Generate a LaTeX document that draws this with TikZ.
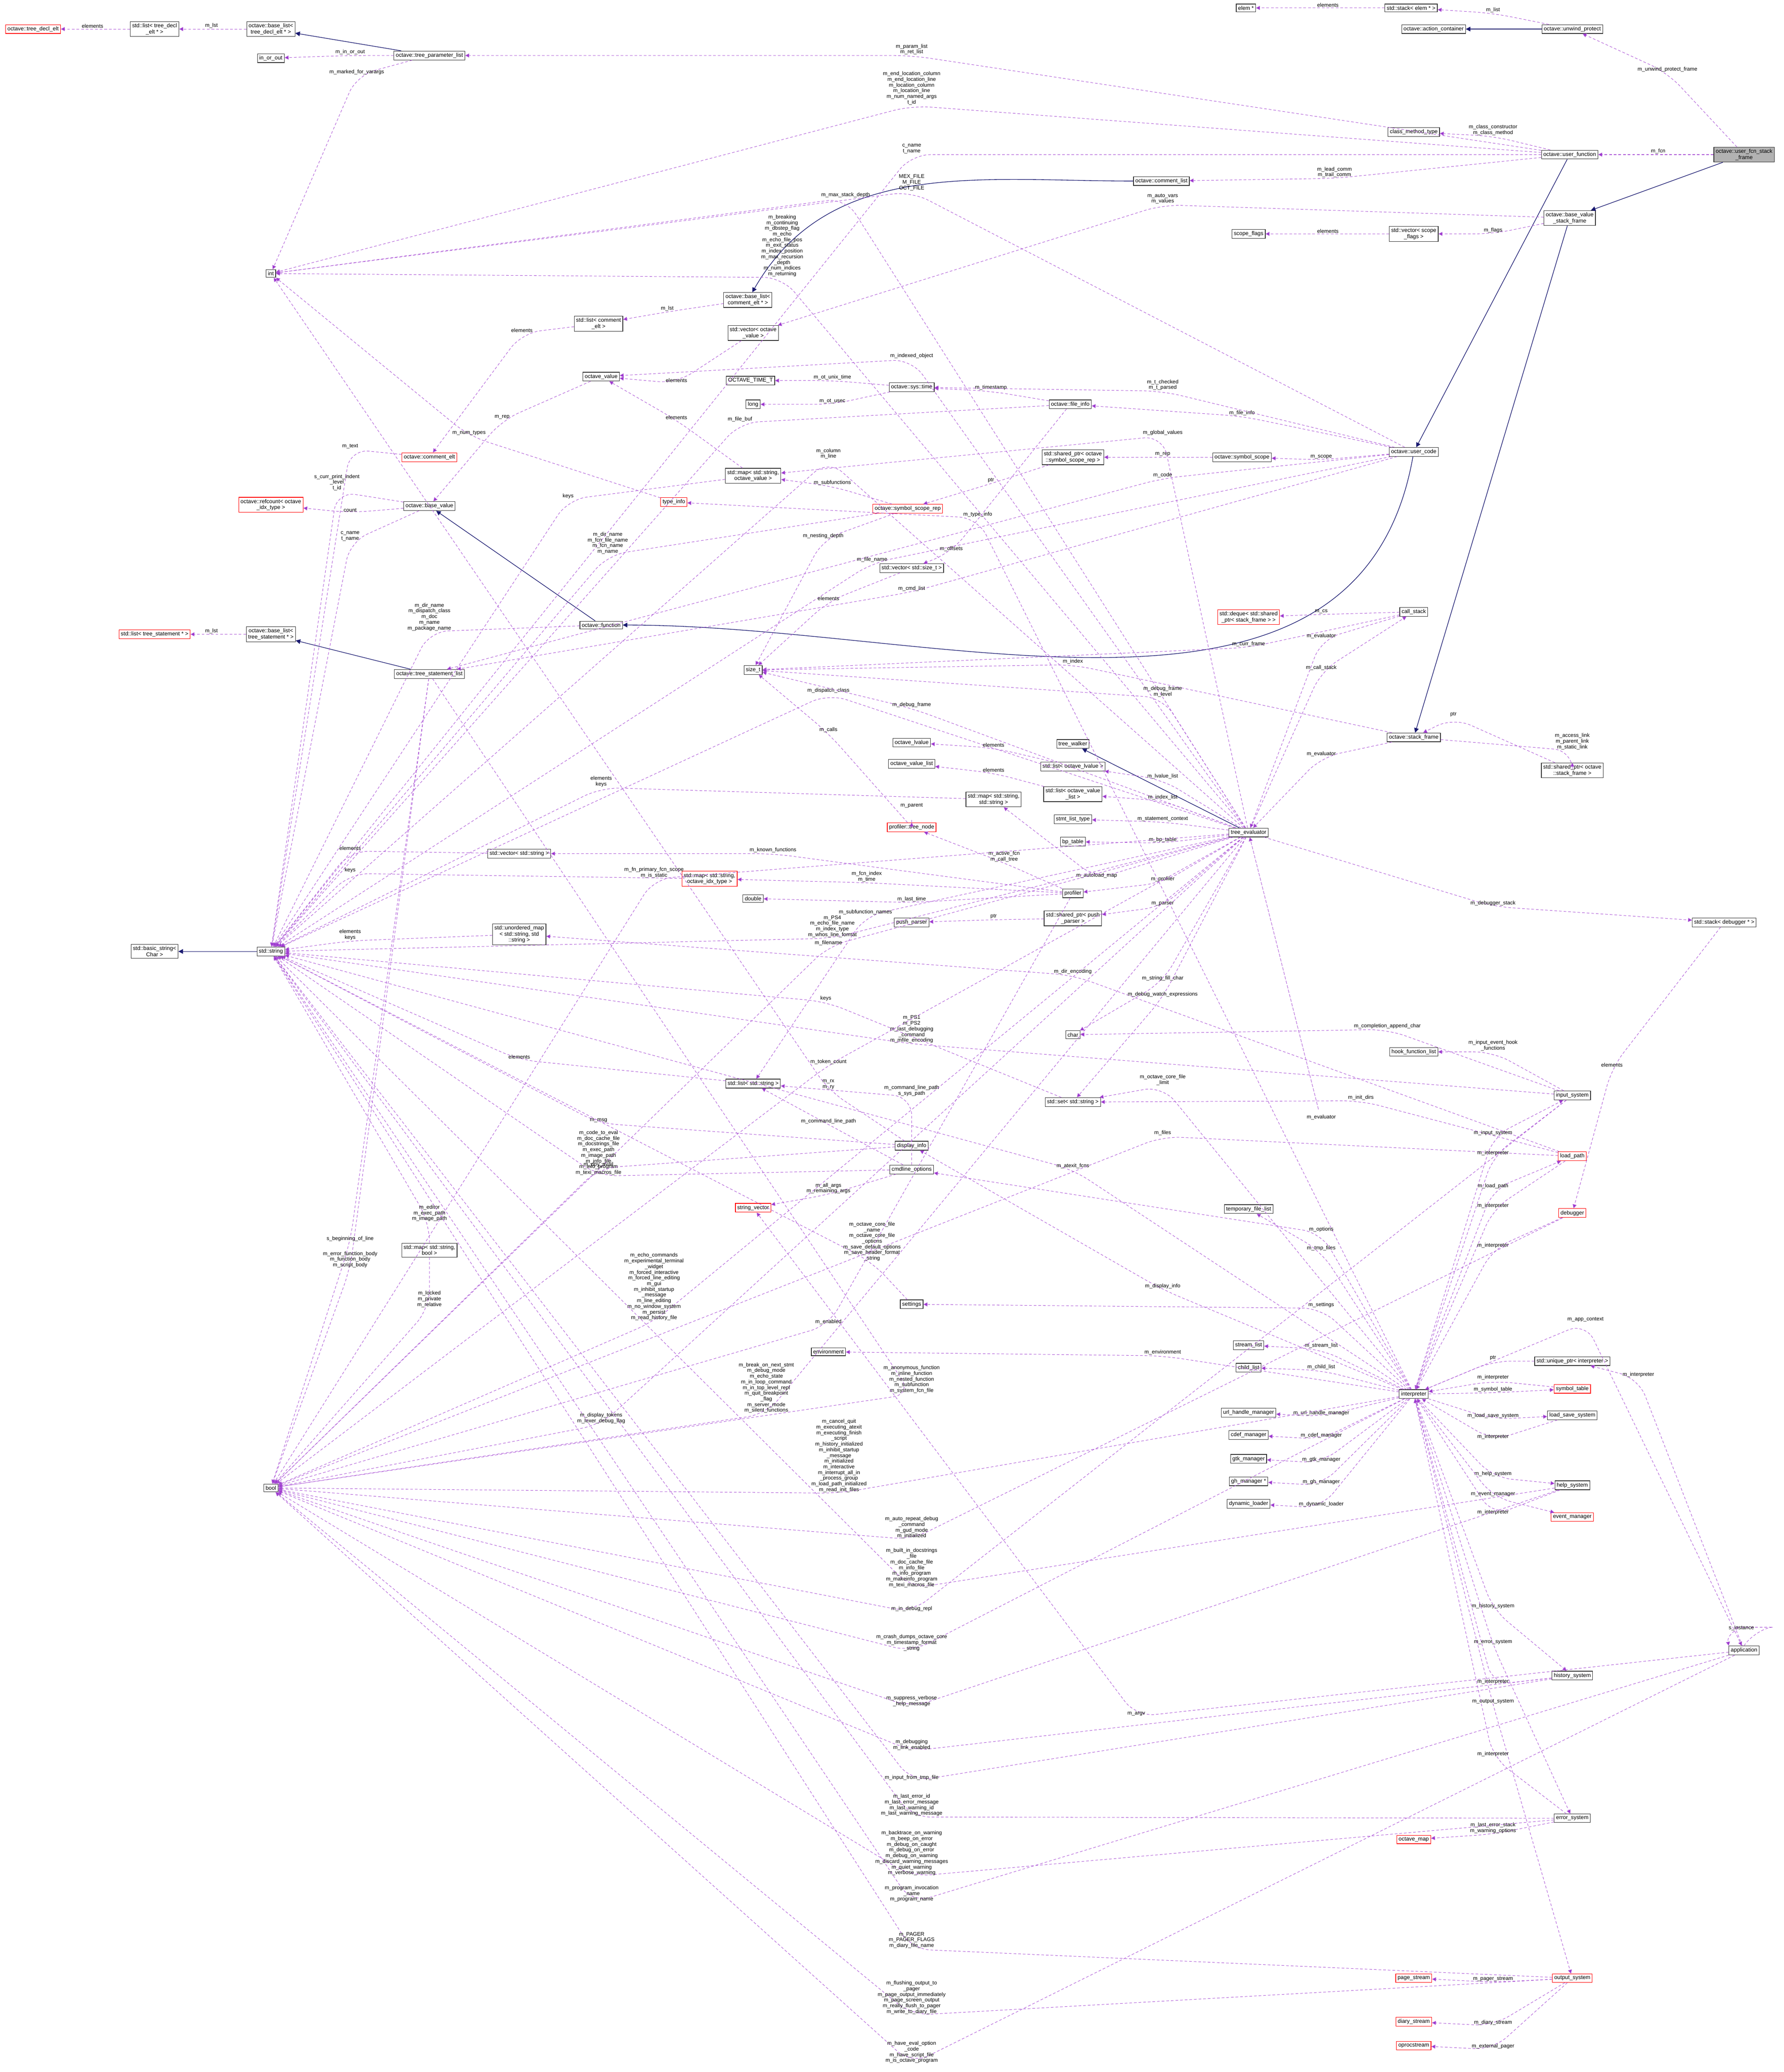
\documentclass[tikz,border=0pt]{standalone}
\usepackage{fontspec}
\setmainfont{Liberation Sans}
\usetikzlibrary{arrows.meta}
\definecolor{edgepurple}{RGB}{154,50,205}
\definecolor{inhblue}{RGB}{25,25,112}
\tikzset{>=latex}
\tikzset{
  cls/.style={draw=black!80, line width=0.4pt, fill=white, align=center, inner sep=1.4pt, font=\fontsize{4.2}{4.6}\selectfont},
  red cls/.style={cls, draw=red},
  root cls/.style={cls, fill=gray!60},
  dep/.style={draw=edgepurple!80, dashed, dash pattern=on 2pt off 1.5pt, line width=0.35pt, rounded corners=14pt, -{Triangle[length=3pt,width=3pt,fill=edgepurple]}},
  inh/.style={draw=inhblue, line width=0.45pt, -{Triangle[length=3.5pt,width=3.5pt,fill=inhblue]}},
  lbl/.style={align=center, inner sep=0.5pt, font=\fontsize{4}{4.3}\selectfont}
}
% dependency edge: source, via point, target, label
\newcommand{\dep}[4]{\draw[dep] (#1) -- (#2) -- (#3); \node[lbl, above] at (#2) {#4};}
\begin{document}
\begin{tikzpicture}[x=1pt, y=-1pt]
\useasboundingbox (0,0) rectangle (1350,1568);

% Classes
\node[red cls] (decl) at (25,22) {octave::tree\_decl\_elt};
\node[cls] (ldecl) at (117,22) {std::list< tree\_decl\\\_elt * >};
\node[cls] (bldecl) at (205,22) {octave::base\_list<\\ tree\_decl\_elt * >};
\node[cls] (inout) at (205,44) {in\_or\_out};
\node[cls] (tpl) at (325,42) {octave::tree\_parameter\_list};
\node[cls] (elem) at (943,6) {elem *};
\node[cls] (selem) at (1068,6) {std::stack< elem * >};
\node[cls] (actc) at (1085,22) {octave::action\_container};
\node[cls] (unwind) at (1190,22) {octave::unwind\_protect};
\node[root cls] (ufsf) at (1320,117) {octave::user\_fcn\_stack\\\_frame};
\node[cls] (cmt) at (1070,100) {class\_method\_type};
\node[cls] (ufcn) at (1188,117) {octave::user\_function};
\node[cls] (clist) at (879,137) {octave::comment\_list};
\node[cls] (bvsf) at (1188,165) {octave::base\_value\\\_stack\_frame};
\node[cls] (sflags) at (945,177) {scope\_flags};
\node[cls] (vsflags) at (1070,177) {std::vector< scope\\\_flags >};
\node[cls] (int) at (205,207) {int};
\node[cls] (blcmt) at (566,227) {octave::base\_list<\\ comment\_elt * >};
\node[cls] (lcmt) at (453,245) {std::list< comment\\\_elt >};
\node[cls] (vov) at (570,252) {std::vector< octave\\\_value >};
\node[cls] (ov) at (455,285) {octave\_value};
\node[cls] (ott) at (568,288) {OCTAVE\_TIME\_T};
\node[cls] (stime) at (690,293) {octave::sys::time};
\node[cls] (long) at (570,306) {long};
\node[cls] (finfo) at (810,306) {octave::file\_info};
\node[red cls] (celt) at (325,346) {octave::comment\_elt};
\node[red cls] (refc) at (205,382) {octave::refcount< octave\\\_idx\_type >};
\node[cls] (bval) at (325,383) {octave::base\_value};
\node[cls] (msov) at (570,360) {std::map< std::string,\\ octave\_value >};
\node[red cls] (tinfo) at (510,380) {type\_info};
\node[red cls] (ssr) at (687,385) {octave::symbol\_scope\_rep};
\node[cls] (spssr) at (812,346) {std::shared\_ptr< octave\\::symbol\_scope\_rep >};
\node[cls] (sscope) at (940,346) {octave::symbol\_scope};
\node[cls] (ucode) at (1070,342) {octave::user\_code};
\node[cls] (vsz) at (690,430) {std::vector< std::size\_t >};
\node[cls] (fcn) at (455,473) {octave::function};
\node[red cls] (deque) at (945,467) {std::deque< std::shared\\\_ptr< stack\_frame > >};
\node[cls] (cstack) at (1070,463) {call\_stack};
\node[cls] (blts) at (205,480) {octave::base\_list<\\ tree\_statement * >};
\node[red cls] (lts) at (117,480) {std::list< tree\_statement * >};
\node[cls] (tsl) at (325,510) {octave::tree\_statement\_list};
\node[cls] (sizet) at (570,507) {size\_t};
\node[cls] (sframe) at (1070,558) {octave::stack\_frame};
\node[cls] (twalk) at (812,563) {tree\_walker};
\node[cls] (olv) at (690,562) {octave\_lvalue};
\node[cls] (ovl) at (690,578) {octave\_value\_list};
\node[cls] (lolv) at (812,580) {std::list< octave\_lvalue >};
\node[cls] (spsf) at (1190,583) {std::shared\_ptr< octave\\::stack\_frame >};
\node[cls] (mss) at (752,605) {std::map< std::string,\\ std::string >};
\node[cls] (lovl) at (812,601) {std::list< octave\_value\\\_list >};
\node[red cls] (ptn) at (690,626) {profiler::tree\_node};
\node[cls] (slt) at (812,620) {stmt\_list\_type};
\node[cls] (bpt) at (812,637) {bp\_table};
\node[cls] (tev) at (945,630) {tree\_evaluator};
\node[cls] (vstr) at (393,646) {std::vector< std::string >};
\node[red cls] (msidx) at (537,665) {std::map< std::string,\\ octave\_idx\_type >};
\node[cls] (dbl) at (570,680) {double};
\node[cls] (prof) at (812,676) {profiler};
\node[cls] (umap) at (393,707) {std::unordered\_map\\< std::string, std\\::string >};
\node[cls] (pp) at (690,698) {push\_parser};
\node[cls] (sppp) at (812,695) {std::shared\_ptr< push\\\_parser >};
\node[cls] (sdbg) at (1305,698) {std::stack< debugger * >};
\node[cls] (bstr) at (117,720) {std::basic\_string<\\ Char >};
\node[cls] (str) at (205,720) {std::string};
\node[cls] (char) at (812,783) {char};
\node[cls] (hfl) at (1070,796) {hook\_function\_list};
\node[cls] (lstr) at (570,820) {std::list< std::string >};
\node[cls] (sstr) at (812,834) {std::set< std::string >};
\node[cls] (insys) at (1190,829) {input\_system};
\node[cls] (dinfo) at (690,867) {display\_info};
\node[red cls] (lpath) at (1190,875) {load\_path};
\node[cls] (cmdl) at (690,885) {cmdline\_options};
\node[red cls] (svec) at (570,914) {string\_vector};
\node[cls] (tfl) at (945,915) {temporary\_file\_list};
\node[red cls] (dbg) at (1190,918) {debugger};
\node[cls] (msb) at (325,946) {std::map< std::string,\\ bool >};
\node[cls] (sett) at (690,987) {settings};
\node[cls] (env) at (627,1023) {environment};
\node[cls] (strl) at (945,1018) {stream\_list};
\node[cls] (chl) at (945,1035) {child\_list};
\node[cls] (upi) at (1190,1030) {std::unique\_ptr< interpreter >};
\node[cls] (interp) at (1070,1055) {interpreter};
\node[red cls] (symt) at (1190,1051) {symbol\_table};
\node[cls] (urlh) at (945,1069) {url\_handle\_manager};
\node[cls] (lss) at (1190,1071) {load\_save\_system};
\node[cls] (cdef) at (945,1086) {cdef\_manager};
\node[cls] (gtk) at (945,1104) {gtk\_manager};
\node[cls] (ghm) at (945,1121) {gh\_manager *};
\node[cls] (help) at (1190,1124) {help\_system};
\node[cls] (bool) at (205,1126) {bool};
\node[cls] (dynl) at (945,1138) {dynamic\_loader};
\node[red cls] (evm) at (1190,1148) {event\_manager};
\node[cls] (app) at (1320,1249) {application};
\node[cls] (hist) at (1190,1268) {history\_system};
\node[cls] (errs) at (1190,1376) {error\_system};
\node[red cls] (omap) at (1070,1392) {octave\_map};
\node[red cls] (pstr) at (1070,1497) {page\_stream};
\node[red cls] (outs) at (1190,1497) {output\_system};
\node[red cls] (dstr) at (1070,1530) {diary\_stream};
\node[red cls] (opst) at (1070,1548) {oprocstream};

% Inheritance
\draw[inh] (tpl) -- (bldecl);
\draw[inh] (unwind) -- (actc);
\draw[inh] (ufsf) -- (bvsf);
\draw[inh] (ufcn) -- (ucode);
\draw[inh] (ucode) to[out=-100,in=0] (fcn);
\draw[inh] (clist) to[out=180,in=60] (blcmt);
\draw[inh] (fcn) -- (bval);
\draw[inh] (tsl) -- (blts);
\draw[inh] (bvsf) -- (sframe);
\draw[inh] (tev) -- (twalk);
\draw[inh] (str) -- (bstr);

% Members, top
\dep{ldecl}{70,22}{decl}{elements}
\dep{bldecl}{160,22}{ldecl}{m\_lst}
\dep{tpl}{265,42}{inout}{m\_in\_or\_out}
\dep{tpl}{270,57}{int}{m\_marked\_for\_varargs}
\dep{selem}{1005,6}{elem}{elements}
\dep{unwind}{1130,10}{selem}{m\_list}
\dep{ufsf}{1262,55}{unwind}{m\_unwind\_protect\_frame}
\dep{ufsf}{1255,117}{ufcn}{m\_fcn}
\dep{ufcn}{690,42}{tpl}{m\_param\_list\\m\_ret\_list}
\dep{ufcn}{690,80}{int}{m\_end\_location\_column\\m\_end\_location\_line\\m\_location\_column\\m\_location\_line\\m\_num\_named\_args\\t\_id}
\dep{ufcn}{1130,103}{cmt}{m\_class\_constructor\\m\_class\_method}
\dep{ufcn}{690,117}{str}{c\_name\\t\_name}
\dep{ufcn}{1010,135}{clist}{m\_lead\_comm\\m\_trail\_comm}
\dep{ucode}{690,145}{int}{MEX\_FILE\\M\_FILE\\OCT\_FILE}
\dep{tev}{640,150}{int}{m\_max\_stack\_depth}
\dep{bvsf}{880,155}{vov}{m\_auto\_vars\\m\_values}
\dep{bvsf}{1130,177}{vsflags}{m\_flags}
\dep{vsflags}{1005,177}{sflags}{elements}
\dep{blcmt}{505,236}{lcmt}{m\_lst}
\dep{lcmt}{395,252}{celt}{elements}
\dep{tev}{592,210}{int}{m\_breaking\\m\_continuing\\m\_dbstep\_flag\\m\_echo\\m\_echo\_file\_pos\\m\_exit\_status\\m\_index\_position\\m\_max\_recursion\\\_depth\\m\_num\_indices\\m\_returning}
\dep{vov}{512,290}{ov}{elements}
\dep{stime}{630,288}{ott}{m\_ot\_unix\_time}
\dep{stime}{630,306}{long}{m\_ot\_usec}
\dep{finfo}{750,296}{stime}{m\_timestamp}
\dep{tev}{690,272}{ov}{m\_indexed\_object}
\dep{ucode}{940,315}{finfo}{m\_file\_info}
\dep{ucode}{880,296}{stime}{m\_t\_checked\\m\_t\_parsed}

% Members, middle
\dep{bval}{265,388}{refc}{count}
\dep{bval}{255,372}{str}{s\_curr\_print\_indent\\\_level\\t\_id}
\dep{bval}{265,410}{str}{c\_name\\t\_name}
\dep{celt}{265,340}{str}{m\_text}
\dep{ov}{380,318}{bval}{m\_rep}
\dep{finfo}{560,320}{str}{m\_file\_buf}
\dep{tinfo}{355,330}{int}{m\_num\_types}
\dep{msov}{512,318}{ov}{elements}
\dep{msov}{430,378}{str}{keys}
\dep{sscope}{880,346}{spssr}{m\_rep}
\dep{spssr}{750,366}{ssr}{ptr}
\dep{ucode}{1000,348}{sscope}{m\_scope}
\dep{ssr}{630,368}{msov}{m\_subfunctions}
\dep{tev}{880,330}{msov}{m\_global\_values}
\dep{interp}{740,392}{tinfo}{m\_type\_info}
\dep{ucode}{880,362}{tsl}{m\_code}
\dep{tev}{627,348}{str}{m\_column\\m\_line}
\dep{ssr}{460,420}{str}{m\_dir\_name\\m\_fcn\_file\_name\\m\_fcn\_name\\m\_name}
\dep{fcn}{325,478}{str}{m\_dir\_name\\m\_dispatch\_class\\m\_doc\\m\_name\\m\_package\_name}
\dep{blts}{160,480}{lts}{m\_lst}
\dep{ssr}{623,408}{sizet}{m\_nesting\_depth}
\dep{ucode}{660,426}{str}{m\_file\_name}
\dep{ucode}{690,448}{tsl}{m\_cmd\_list}
\dep{finfo}{720,418}{vsz}{m\_offsets}
\dep{vsz}{627,455}{sizet}{elements}
\dep{cstack}{945,490}{sizet}{m\_curr\_frame}
\dep{cstack}{1000,465}{deque}{m\_cs}
\dep{tev}{1000,508}{cstack}{m\_call\_stack}
\dep{cstack}{1000,484}{tev}{m\_evaluator}
\dep{sframe}{812,503}{sizet}{m\_index}
\dep{tev}{627,525}{str}{m\_dispatch\_class}
\dep{sframe}{1190,568}{spsf}{m\_access\_link\\m\_parent\_link\\m\_static\_link}
\dep{spsf}{1100,543}{sframe}{ptr}
\dep{tev}{690,536}{sizet}{m\_debug\_frame}
\dep{tev}{880,528}{sizet}{m\_debug\_frame\\m\_level}
\dep{ptn}{627,555}{sizet}{m\_calls}
\dep{lolv}{752,566}{olv}{elements}
\dep{lovl}{752,585}{ovl}{elements}
\dep{tev}{880,590}{lolv}{m\_lvalue\_list}
\dep{tev}{880,606}{lovl}{m\_index\_list}
\dep{tev}{880,622}{slt}{m\_statement\_context}
\dep{tev}{880,638}{bpt}{m\_bp\_table}
\dep{sframe}{1000,573}{tev}{m\_evaluator}
\dep{mss}{455,596}{str}{elements\\keys}
\dep{ptn}{690,612}{ptn}{m\_parent}
\dep{prof}{760,653}{ptn}{m\_active\_fcn\\m\_call\_tree}
\dep{tev}{830,665}{mss}{m\_autoload\_map}
\dep{vstr}{265,644}{str}{elements}
\dep{prof}{585,646}{vstr}{m\_known\_functions}
\dep{tev}{880,668}{prof}{m\_profiler}
\dep{tev}{495,665}{bool}{m\_fn\_primary\_fcn\_scope\\m\_is\_static}
\dep{msidx}{265,661}{str}{keys}
\dep{prof}{656,668}{msidx}{m\_fcn\_index\\m\_time}
\dep{prof}{690,683}{dbl}{m\_last\_time}
\dep{tev}{655,693}{lstr}{m\_subfunction\_names}
\dep{tev}{630,710}{str}{m\_PS4\\m\_echo\_file\_name\\m\_index\_type\\m\_whos\_line\_format}
\dep{tev}{880,686}{sppp}{m\_parser}
\dep{sppp}{752,696}{pp}{ptr}
\dep{tev}{1130,686}{sdbg}{m\_debugger\_stack}
\dep{sdbg}{1220,808}{dbg}{elements}
\dep{umap}{265,712}{str}{elements\\keys}
\dep{tev}{627,716}{bool}{m\_filename}
\dep{lpath}{812,738}{umap}{m\_dir\_encoding}
\dep{tev}{880,743}{char}{m\_string\_fill\_char}
\dep{tev}{880,755}{sstr}{m\_debug\_watch\_expressions}
\dep{insys}{1050,779}{char}{m\_completion\_append\_char}
\dep{insys}{1130,796}{hfl}{m\_input\_event\_hook\\\_functions}
\dep{insys}{690,790}{str}{m\_PS1\\m\_PS2\\m\_last\_debugging\\\_command\\m\_mfile\_encoding}
\dep{lstr}{393,802}{str}{elements}
\dep{sstr}{625,758}{str}{keys}
\dep{tev}{627,806}{bool}{m\_token\_count}
\dep{dinfo}{627,825}{int}{m\_rx\\m\_ry}
\dep{cmdl}{690,830}{lstr}{m\_command\_line\_path\\s\_sys\_path}
\dep{interp}{880,822}{sstr}{m\_octave\_core\_file\\\_limit}
\dep{lpath}{1030,833}{sstr}{m\_init\_dirs}
\dep{dinfo}{453,850}{str}{m\_msg}
\dep{cmdl}{627,851}{lstr}{m\_command\_line\_path}
\dep{cmdl}{453,890}{str}{m\_code\_to\_eval\\m\_doc\_cache\_file\\m\_docstrings\_file\\m\_exec\_path\\m\_image\_path\\m\_info\_file\\m\_info\_program\\m\_texi\_macros\_file}
\dep{dinfo}{453,884}{bool}{m\_dpy\_avail}
\dep{cmdl}{627,904}{svec}{m\_all\_args\\m\_remaining\_args}
\dep{interp}{812,885}{str}{m\_atexit\_fcns}
\dep{tev}{1000,848}{tev}{m\_evaluator}
\dep{lpath}{880,860}{bool}{m\_files}
\dep{msb}{325,925}{str}{m\_editor\\m\_exec\_path\\m\_image\_path}
\dep{interp}{1000,947}{tfl}{m\_tmp\_files}
\dep{interp}{1000,933}{cmdl}{m\_options}
\dep{interp}{880,976}{dinfo}{m\_display\_info}
\dep{interp}{1000,990}{sett}{m\_settings}
\dep{sett}{660,955}{str}{m\_octave\_core\_file\\\_name\\m\_octave\_core\_file\\\_options\\m\_save\_default\_options\\m\_save\_header\_format\\\_string}
\dep{msb}{325,990}{bool}{m\_locked\\m\_private\\m\_relative}
\dep{tsl}{265,940}{bool}{s\_beginning\_of\_line}
\dep{tsl}{265,960}{bool}{m\_error\_function\_body\\m\_function\_body\\m\_script\_body}
\dep{tev}{495,1000}{bool}{m\_echo\_commands\\m\_experimental\_terminal\\\_widget\\m\_forced\_interactive\\m\_forced\_line\_editing\\m\_gui\\m\_inhibit\_startup\\\_message\\m\_line\_editing\\m\_no\_window\_system\\m\_persist\\m\_read\_history\_file}
\dep{prof}{627,1003}{bool}{m\_enabled}
\dep{interp}{880,1026}{env}{m\_environment}
\dep{interp}{1000,1021}{strl}{m\_stream\_list}
\dep{interp}{1000,1037}{chl}{m\_child\_list}

% Members, interpreter and below
\dep{interp}{1200,1001}{app}{m\_app\_context}
\dep{app}{1240,1043}{upi}{m\_interpreter}
\dep{upi}{1130,1030}{interp}{ptr}
\dep{tev}{580,1070}{bool}{m\_break\_on\_next\_stmt\\m\_debug\_mode\\m\_echo\_state\\m\_in\_loop\_command\\m\_in\_top\_level\_repl\\m\_quit\_breakpoint\\\_flag\\m\_server\_mode\\m\_silent\_functions}
\dep{tsl}{690,1055}{bool}{m\_anonymous\_function\\m\_inline\_function\\m\_nested\_function\\m\_subfunction\\m\_system\_fcn\_file}
\dep{tev}{455,1078}{bool}{m\_display\_tokens\\m\_lexer\_debug\_flag}
\dep{interp}{1000,1072}{urlh}{m\_url\_handle\_manager}
\dep{interp}{1000,1089}{cdef}{m\_cdef\_manager}
\dep{interp}{1000,1107}{gtk}{m\_gtk\_manager}
\dep{interp}{1000,1124}{ghm}{m\_gh\_manager}
\dep{interp}{1000,1141}{dynl}{m\_dynamic\_loader}
\dep{interp}{1130,1054}{symt}{m\_symbol\_table}
\dep{interp}{1130,1074}{lss}{m\_load\_save\_system}
\dep{interp}{1130,1118}{help}{m\_help\_system}
\dep{interp}{1130,1133}{evm}{m\_event\_manager}
\dep{interp}{1130,1218}{hist}{m\_history\_system}
\dep{interp}{1130,1245}{errs}{m\_error\_system}
\dep{interp}{1130,1290}{outs}{m\_output\_system}
\dep{interp}{1130,860}{insys}{m\_input\_system}
\dep{interp}{1130,900}{lpath}{m\_load\_path}
\dep{symt}{1130,1045}{interp}{m\_interpreter}
\dep{lss}{1130,1090}{interp}{m\_interpreter}
\dep{help}{1130,1147}{interp}{m\_interpreter}
\dep{hist}{1130,1275}{interp}{m\_interpreter}
\dep{errs}{1130,1330}{interp}{m\_interpreter}
\dep{insys}{1130,875}{interp}{m\_interpreter}
\dep{lpath}{1130,915}{interp}{m\_interpreter}
\dep{dbg}{1130,945}{interp}{m\_interpreter}
\draw[dep] (app.north) to[out=60,in=0] ++(8,-14) to[out=180,in=100] (app.north west);
\node[lbl] at (1318,1232) {s\_instance};
\dep{interp}{635,1130}{bool}{m\_cancel\_quit\\m\_executing\_atexit\\m\_executing\_finish\\\_script\\m\_history\_initialized\\m\_inhibit\_startup\\\_message\\m\_initialized\\m\_interactive\\m\_interrupt\_all\_in\\\_process\_group\\m\_load\_path\_initialized\\m\_read\_init\_files}
\dep{dbg}{690,1165}{bool}{m\_auto\_repeat\_debug\\\_command\\m\_gud\_mode\\m\_initialized}
\dep{help}{690,1202}{str}{m\_built\_in\_docstrings\\\_file\\m\_doc\_cache\_file\\m\_info\_file\\m\_info\_program\\m\_makeinfo\_program\\m\_texi\_macros\_file}
\dep{insys}{690,1220}{bool}{m\_in\_debug\_repl}
\dep{interp}{690,1250}{bool}{m\_crash\_dumps\_octave\_core\\m\_timestamp\_format\\\_string}
\dep{help}{690,1292}{bool}{m\_suppress\_verbose\\\_help\_message}
\dep{app}{860,1299}{svec}{m\_argv}
\dep{hist}{690,1325}{bool}{m\_debugging\\m\_link\_enabled}
\dep{hist}{690,1348}{str}{m\_input\_from\_tmp\_file}
\dep{errs}{690,1375}{str}{m\_last\_error\_id\\m\_last\_error\_message\\m\_last\_warning\_id\\m\_last\_warning\_message}
\dep{errs}{1130,1388}{omap}{m\_last\_error\_stack\\m\_warning\_options}
\dep{errs}{690,1420}{bool}{m\_backtrace\_on\_warning\\m\_beep\_on\_error\\m\_debug\_on\_caught\\m\_debug\_on\_error\\m\_debug\_on\_warning\\m\_discard\_warning\_messages\\m\_quiet\_warning\\m\_verbose\_warning}
\dep{app}{690,1440}{str}{m\_program\_invocation\\\_name\\m\_program\_name}
\dep{outs}{690,1475}{str}{m\_PAGER\\m\_PAGER\_FLAGS\\m\_diary\_file\_name}
\dep{outs}{690,1525}{bool}{m\_flushing\_output\_to\\\_pager\\m\_page\_output\_immediately\\m\_page\_screen\_output\\m\_really\_flush\_to\_pager\\m\_write\_to\_diary\_file}
\dep{outs}{1130,1500}{pstr}{m\_pager\_stream}
\dep{outs}{1130,1533}{dstr}{m\_diary\_stream}
\dep{outs}{1130,1551}{opst}{m\_external\_pager}
\dep{app}{690,1562}{bool}{m\_have\_eval\_option\\\_code\\m\_have\_script\_file\\m\_is\_octave\_program}
\end{tikzpicture}
\end{document}
